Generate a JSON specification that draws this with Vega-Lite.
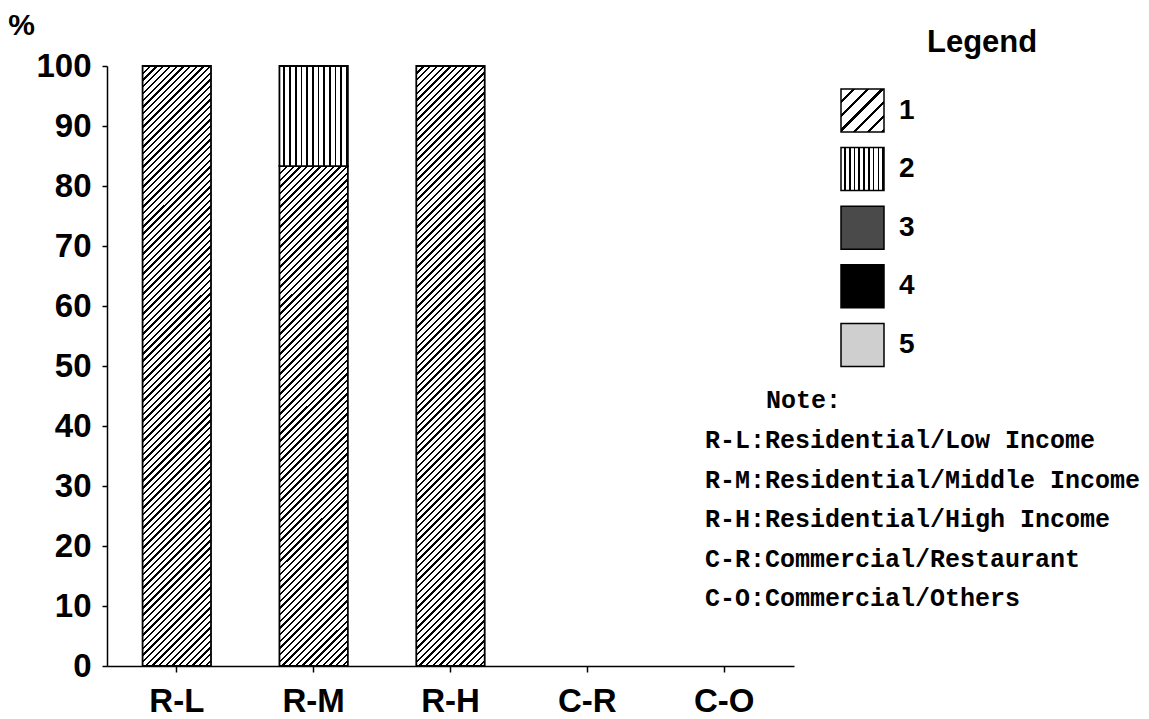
{
"$schema": "https://vega.github.io/schema/vega-lite/v6.json",
"width": 687,
"height": 600,
"autosize": {"type": "none"},
"padding": {"left": 107, "top": 66, "right": 355, "bottom": 53},
"background": "white",
"config": {"view": {"stroke": null}},
"params": [
{"name": "hatchA", "value": {"gradient": "linear", "x1": 0, "y1": 0, "x2": 0.1254, "y2": 1.0997, "stops": [
{"offset":0,"color":"#000"},{"offset":0.0035,"color":"#000"},{"offset":0.0035,"color":"#fff"},{"offset":0.01,"color":"#fff"},
{"offset":0.01,"color":"#000"},{"offset":0.0135,"color":"#000"},{"offset":0.0135,"color":"#fff"},{"offset":0.02,"color":"#fff"},
{"offset":0.02,"color":"#000"},{"offset":0.0235,"color":"#000"},{"offset":0.0235,"color":"#fff"},{"offset":0.03,"color":"#fff"},
{"offset":0.03,"color":"#000"},{"offset":0.0335,"color":"#000"},{"offset":0.0335,"color":"#fff"},{"offset":0.04,"color":"#fff"},
{"offset":0.04,"color":"#000"},{"offset":0.0435,"color":"#000"},{"offset":0.0435,"color":"#fff"},{"offset":0.05,"color":"#fff"},
{"offset":0.05,"color":"#000"},{"offset":0.0535,"color":"#000"},{"offset":0.0535,"color":"#fff"},{"offset":0.06,"color":"#fff"},
{"offset":0.06,"color":"#000"},{"offset":0.0635,"color":"#000"},{"offset":0.0635,"color":"#fff"},{"offset":0.07,"color":"#fff"},
{"offset":0.07,"color":"#000"},{"offset":0.0735,"color":"#000"},{"offset":0.0735,"color":"#fff"},{"offset":0.08,"color":"#fff"},
{"offset":0.08,"color":"#000"},{"offset":0.0835,"color":"#000"},{"offset":0.0835,"color":"#fff"},{"offset":0.09,"color":"#fff"},
{"offset":0.09,"color":"#000"},{"offset":0.0935,"color":"#000"},{"offset":0.0935,"color":"#fff"},{"offset":0.1,"color":"#fff"},
{"offset":0.1,"color":"#000"},{"offset":0.1035,"color":"#000"},{"offset":0.1035,"color":"#fff"},{"offset":0.11,"color":"#fff"},
{"offset":0.11,"color":"#000"},{"offset":0.1135,"color":"#000"},{"offset":0.1135,"color":"#fff"},{"offset":0.12,"color":"#fff"},
{"offset":0.12,"color":"#000"},{"offset":0.1235,"color":"#000"},{"offset":0.1235,"color":"#fff"},{"offset":0.13,"color":"#fff"},
{"offset":0.13,"color":"#000"},{"offset":0.1335,"color":"#000"},{"offset":0.1335,"color":"#fff"},{"offset":0.14,"color":"#fff"},
{"offset":0.14,"color":"#000"},{"offset":0.1435,"color":"#000"},{"offset":0.1435,"color":"#fff"},{"offset":0.15,"color":"#fff"},
{"offset":0.15,"color":"#000"},{"offset":0.1535,"color":"#000"},{"offset":0.1535,"color":"#fff"},{"offset":0.16,"color":"#fff"},
{"offset":0.16,"color":"#000"},{"offset":0.1635,"color":"#000"},{"offset":0.1635,"color":"#fff"},{"offset":0.17,"color":"#fff"},
{"offset":0.17,"color":"#000"},{"offset":0.1735,"color":"#000"},{"offset":0.1735,"color":"#fff"},{"offset":0.18,"color":"#fff"},
{"offset":0.18,"color":"#000"},{"offset":0.1835,"color":"#000"},{"offset":0.1835,"color":"#fff"},{"offset":0.19,"color":"#fff"},
{"offset":0.19,"color":"#000"},{"offset":0.1935,"color":"#000"},{"offset":0.1935,"color":"#fff"},{"offset":0.2,"color":"#fff"},
{"offset":0.2,"color":"#000"},{"offset":0.2035,"color":"#000"},{"offset":0.2035,"color":"#fff"},{"offset":0.21,"color":"#fff"},
{"offset":0.21,"color":"#000"},{"offset":0.2135,"color":"#000"},{"offset":0.2135,"color":"#fff"},{"offset":0.22,"color":"#fff"},
{"offset":0.22,"color":"#000"},{"offset":0.2235,"color":"#000"},{"offset":0.2235,"color":"#fff"},{"offset":0.23,"color":"#fff"},
{"offset":0.23,"color":"#000"},{"offset":0.2335,"color":"#000"},{"offset":0.2335,"color":"#fff"},{"offset":0.24,"color":"#fff"},
{"offset":0.24,"color":"#000"},{"offset":0.2435,"color":"#000"},{"offset":0.2435,"color":"#fff"},{"offset":0.25,"color":"#fff"},
{"offset":0.25,"color":"#000"},{"offset":0.2535,"color":"#000"},{"offset":0.2535,"color":"#fff"},{"offset":0.26,"color":"#fff"},
{"offset":0.26,"color":"#000"},{"offset":0.2635,"color":"#000"},{"offset":0.2635,"color":"#fff"},{"offset":0.27,"color":"#fff"},
{"offset":0.27,"color":"#000"},{"offset":0.2735,"color":"#000"},{"offset":0.2735,"color":"#fff"},{"offset":0.28,"color":"#fff"},
{"offset":0.28,"color":"#000"},{"offset":0.2835,"color":"#000"},{"offset":0.2835,"color":"#fff"},{"offset":0.29,"color":"#fff"},
{"offset":0.29,"color":"#000"},{"offset":0.2935,"color":"#000"},{"offset":0.2935,"color":"#fff"},{"offset":0.3,"color":"#fff"},
{"offset":0.3,"color":"#000"},{"offset":0.3035,"color":"#000"},{"offset":0.3035,"color":"#fff"},{"offset":0.31,"color":"#fff"},
{"offset":0.31,"color":"#000"},{"offset":0.3135,"color":"#000"},{"offset":0.3135,"color":"#fff"},{"offset":0.32,"color":"#fff"},
{"offset":0.32,"color":"#000"},{"offset":0.3235,"color":"#000"},{"offset":0.3235,"color":"#fff"},{"offset":0.33,"color":"#fff"},
{"offset":0.33,"color":"#000"},{"offset":0.3335,"color":"#000"},{"offset":0.3335,"color":"#fff"},{"offset":0.34,"color":"#fff"},
{"offset":0.34,"color":"#000"},{"offset":0.3435,"color":"#000"},{"offset":0.3435,"color":"#fff"},{"offset":0.35,"color":"#fff"},
{"offset":0.35,"color":"#000"},{"offset":0.3535,"color":"#000"},{"offset":0.3535,"color":"#fff"},{"offset":0.36,"color":"#fff"},
{"offset":0.36,"color":"#000"},{"offset":0.3635,"color":"#000"},{"offset":0.3635,"color":"#fff"},{"offset":0.37,"color":"#fff"},
{"offset":0.37,"color":"#000"},{"offset":0.3735,"color":"#000"},{"offset":0.3735,"color":"#fff"},{"offset":0.38,"color":"#fff"},
{"offset":0.38,"color":"#000"},{"offset":0.3835,"color":"#000"},{"offset":0.3835,"color":"#fff"},{"offset":0.39,"color":"#fff"},
{"offset":0.39,"color":"#000"},{"offset":0.3935,"color":"#000"},{"offset":0.3935,"color":"#fff"},{"offset":0.4,"color":"#fff"},
{"offset":0.4,"color":"#000"},{"offset":0.4035,"color":"#000"},{"offset":0.4035,"color":"#fff"},{"offset":0.41,"color":"#fff"},
{"offset":0.41,"color":"#000"},{"offset":0.4135,"color":"#000"},{"offset":0.4135,"color":"#fff"},{"offset":0.42,"color":"#fff"},
{"offset":0.42,"color":"#000"},{"offset":0.4235,"color":"#000"},{"offset":0.4235,"color":"#fff"},{"offset":0.43,"color":"#fff"},
{"offset":0.43,"color":"#000"},{"offset":0.4335,"color":"#000"},{"offset":0.4335,"color":"#fff"},{"offset":0.44,"color":"#fff"},
{"offset":0.44,"color":"#000"},{"offset":0.4435,"color":"#000"},{"offset":0.4435,"color":"#fff"},{"offset":0.45,"color":"#fff"},
{"offset":0.45,"color":"#000"},{"offset":0.4535,"color":"#000"},{"offset":0.4535,"color":"#fff"},{"offset":0.46,"color":"#fff"},
{"offset":0.46,"color":"#000"},{"offset":0.4635,"color":"#000"},{"offset":0.4635,"color":"#fff"},{"offset":0.47,"color":"#fff"},
{"offset":0.47,"color":"#000"},{"offset":0.4735,"color":"#000"},{"offset":0.4735,"color":"#fff"},{"offset":0.48,"color":"#fff"},
{"offset":0.48,"color":"#000"},{"offset":0.4835,"color":"#000"},{"offset":0.4835,"color":"#fff"},{"offset":0.49,"color":"#fff"},
{"offset":0.49,"color":"#000"},{"offset":0.4935,"color":"#000"},{"offset":0.4935,"color":"#fff"},{"offset":0.5,"color":"#fff"},
{"offset":0.5,"color":"#000"},{"offset":0.5035,"color":"#000"},{"offset":0.5035,"color":"#fff"},{"offset":0.51,"color":"#fff"},
{"offset":0.51,"color":"#000"},{"offset":0.5135,"color":"#000"},{"offset":0.5135,"color":"#fff"},{"offset":0.52,"color":"#fff"},
{"offset":0.52,"color":"#000"},{"offset":0.5235,"color":"#000"},{"offset":0.5235,"color":"#fff"},{"offset":0.53,"color":"#fff"},
{"offset":0.53,"color":"#000"},{"offset":0.5335,"color":"#000"},{"offset":0.5335,"color":"#fff"},{"offset":0.54,"color":"#fff"},
{"offset":0.54,"color":"#000"},{"offset":0.5435,"color":"#000"},{"offset":0.5435,"color":"#fff"},{"offset":0.55,"color":"#fff"},
{"offset":0.55,"color":"#000"},{"offset":0.5535,"color":"#000"},{"offset":0.5535,"color":"#fff"},{"offset":0.56,"color":"#fff"},
{"offset":0.56,"color":"#000"},{"offset":0.5635,"color":"#000"},{"offset":0.5635,"color":"#fff"},{"offset":0.57,"color":"#fff"},
{"offset":0.57,"color":"#000"},{"offset":0.5735,"color":"#000"},{"offset":0.5735,"color":"#fff"},{"offset":0.58,"color":"#fff"},
{"offset":0.58,"color":"#000"},{"offset":0.5835,"color":"#000"},{"offset":0.5835,"color":"#fff"},{"offset":0.59,"color":"#fff"},
{"offset":0.59,"color":"#000"},{"offset":0.5935,"color":"#000"},{"offset":0.5935,"color":"#fff"},{"offset":0.6,"color":"#fff"},
{"offset":0.6,"color":"#000"},{"offset":0.6035,"color":"#000"},{"offset":0.6035,"color":"#fff"},{"offset":0.61,"color":"#fff"},
{"offset":0.61,"color":"#000"},{"offset":0.6135,"color":"#000"},{"offset":0.6135,"color":"#fff"},{"offset":0.62,"color":"#fff"},
{"offset":0.62,"color":"#000"},{"offset":0.6235,"color":"#000"},{"offset":0.6235,"color":"#fff"},{"offset":0.63,"color":"#fff"},
{"offset":0.63,"color":"#000"},{"offset":0.6335,"color":"#000"},{"offset":0.6335,"color":"#fff"},{"offset":0.64,"color":"#fff"},
{"offset":0.64,"color":"#000"},{"offset":0.6435,"color":"#000"},{"offset":0.6435,"color":"#fff"},{"offset":0.65,"color":"#fff"},
{"offset":0.65,"color":"#000"},{"offset":0.6535,"color":"#000"},{"offset":0.6535,"color":"#fff"},{"offset":0.66,"color":"#fff"},
{"offset":0.66,"color":"#000"},{"offset":0.6635,"color":"#000"},{"offset":0.6635,"color":"#fff"},{"offset":0.67,"color":"#fff"},
{"offset":0.67,"color":"#000"},{"offset":0.6735,"color":"#000"},{"offset":0.6735,"color":"#fff"},{"offset":0.68,"color":"#fff"},
{"offset":0.68,"color":"#000"},{"offset":0.6835,"color":"#000"},{"offset":0.6835,"color":"#fff"},{"offset":0.69,"color":"#fff"},
{"offset":0.69,"color":"#000"},{"offset":0.6935,"color":"#000"},{"offset":0.6935,"color":"#fff"},{"offset":0.7,"color":"#fff"},
{"offset":0.7,"color":"#000"},{"offset":0.7035,"color":"#000"},{"offset":0.7035,"color":"#fff"},{"offset":0.71,"color":"#fff"},
{"offset":0.71,"color":"#000"},{"offset":0.7135,"color":"#000"},{"offset":0.7135,"color":"#fff"},{"offset":0.72,"color":"#fff"},
{"offset":0.72,"color":"#000"},{"offset":0.7235,"color":"#000"},{"offset":0.7235,"color":"#fff"},{"offset":0.73,"color":"#fff"},
{"offset":0.73,"color":"#000"},{"offset":0.7335,"color":"#000"},{"offset":0.7335,"color":"#fff"},{"offset":0.74,"color":"#fff"},
{"offset":0.74,"color":"#000"},{"offset":0.7435,"color":"#000"},{"offset":0.7435,"color":"#fff"},{"offset":0.75,"color":"#fff"},
{"offset":0.75,"color":"#000"},{"offset":0.7535,"color":"#000"},{"offset":0.7535,"color":"#fff"},{"offset":0.76,"color":"#fff"},
{"offset":0.76,"color":"#000"},{"offset":0.7635,"color":"#000"},{"offset":0.7635,"color":"#fff"},{"offset":0.77,"color":"#fff"},
{"offset":0.77,"color":"#000"},{"offset":0.7735,"color":"#000"},{"offset":0.7735,"color":"#fff"},{"offset":0.78,"color":"#fff"},
{"offset":0.78,"color":"#000"},{"offset":0.7835,"color":"#000"},{"offset":0.7835,"color":"#fff"},{"offset":0.79,"color":"#fff"},
{"offset":0.79,"color":"#000"},{"offset":0.7935,"color":"#000"},{"offset":0.7935,"color":"#fff"},{"offset":0.8,"color":"#fff"},
{"offset":0.8,"color":"#000"},{"offset":0.8035,"color":"#000"},{"offset":0.8035,"color":"#fff"},{"offset":0.81,"color":"#fff"},
{"offset":0.81,"color":"#000"},{"offset":0.8135,"color":"#000"},{"offset":0.8135,"color":"#fff"},{"offset":0.82,"color":"#fff"},
{"offset":0.82,"color":"#000"},{"offset":0.8235,"color":"#000"},{"offset":0.8235,"color":"#fff"},{"offset":0.83,"color":"#fff"},
{"offset":0.83,"color":"#000"},{"offset":0.8335,"color":"#000"},{"offset":0.8335,"color":"#fff"},{"offset":0.84,"color":"#fff"},
{"offset":0.84,"color":"#000"},{"offset":0.8435,"color":"#000"},{"offset":0.8435,"color":"#fff"},{"offset":0.85,"color":"#fff"},
{"offset":0.85,"color":"#000"},{"offset":0.8535,"color":"#000"},{"offset":0.8535,"color":"#fff"},{"offset":0.86,"color":"#fff"},
{"offset":0.86,"color":"#000"},{"offset":0.8635,"color":"#000"},{"offset":0.8635,"color":"#fff"},{"offset":0.87,"color":"#fff"},
{"offset":0.87,"color":"#000"},{"offset":0.8735,"color":"#000"},{"offset":0.8735,"color":"#fff"},{"offset":0.88,"color":"#fff"},
{"offset":0.88,"color":"#000"},{"offset":0.8835,"color":"#000"},{"offset":0.8835,"color":"#fff"},{"offset":0.89,"color":"#fff"},
{"offset":0.89,"color":"#000"},{"offset":0.8935,"color":"#000"},{"offset":0.8935,"color":"#fff"},{"offset":0.9,"color":"#fff"},
{"offset":0.9,"color":"#000"},{"offset":0.9035,"color":"#000"},{"offset":0.9035,"color":"#fff"},{"offset":0.91,"color":"#fff"},
{"offset":0.91,"color":"#000"},{"offset":0.9135,"color":"#000"},{"offset":0.9135,"color":"#fff"},{"offset":0.92,"color":"#fff"},
{"offset":0.92,"color":"#000"},{"offset":0.9235,"color":"#000"},{"offset":0.9235,"color":"#fff"},{"offset":0.93,"color":"#fff"},
{"offset":0.93,"color":"#000"},{"offset":0.9335,"color":"#000"},{"offset":0.9335,"color":"#fff"},{"offset":0.94,"color":"#fff"},
{"offset":0.94,"color":"#000"},{"offset":0.9435,"color":"#000"},{"offset":0.9435,"color":"#fff"},{"offset":0.95,"color":"#fff"},
{"offset":0.95,"color":"#000"},{"offset":0.9535,"color":"#000"},{"offset":0.9535,"color":"#fff"},{"offset":0.96,"color":"#fff"},
{"offset":0.96,"color":"#000"},{"offset":0.9635,"color":"#000"},{"offset":0.9635,"color":"#fff"},{"offset":0.97,"color":"#fff"},
{"offset":0.97,"color":"#000"},{"offset":0.9735,"color":"#000"},{"offset":0.9735,"color":"#fff"},{"offset":0.98,"color":"#fff"},
{"offset":0.98,"color":"#000"},{"offset":0.9835,"color":"#000"},{"offset":0.9835,"color":"#fff"},{"offset":0.99,"color":"#fff"},
{"offset":0.99,"color":"#000"},{"offset":0.9935,"color":"#000"},{"offset":0.9935,"color":"#fff"},{"offset":1,"color":"#fff"}
]}},
{"name": "vstripe", "value": {"gradient": "linear", "x1": 0, "y1": 0, "x2": 1, "y2": 0, "stops": [
{"offset":0,"color":"#fff"},{"offset":0.0583,"color":"#fff"},{"offset":0.0583,"color":"#000"},{"offset":0.0833,"color":"#000"},
{"offset":0.0833,"color":"#fff"},{"offset":0.1416,"color":"#fff"},{"offset":0.1416,"color":"#000"},{"offset":0.1667,"color":"#000"},
{"offset":0.1667,"color":"#fff"},{"offset":0.225,"color":"#fff"},{"offset":0.225,"color":"#000"},{"offset":0.25,"color":"#000"},
{"offset":0.25,"color":"#fff"},{"offset":0.3083,"color":"#fff"},{"offset":0.3083,"color":"#000"},{"offset":0.3333,"color":"#000"},
{"offset":0.3333,"color":"#fff"},{"offset":0.3916,"color":"#fff"},{"offset":0.3916,"color":"#000"},{"offset":0.4167,"color":"#000"},
{"offset":0.4167,"color":"#fff"},{"offset":0.475,"color":"#fff"},{"offset":0.475,"color":"#000"},{"offset":0.5,"color":"#000"},
{"offset":0.5,"color":"#fff"},{"offset":0.5583,"color":"#fff"},{"offset":0.5583,"color":"#000"},{"offset":0.5833,"color":"#000"},
{"offset":0.5833,"color":"#fff"},{"offset":0.6416,"color":"#fff"},{"offset":0.6416,"color":"#000"},{"offset":0.6667,"color":"#000"},
{"offset":0.6667,"color":"#fff"},{"offset":0.725,"color":"#fff"},{"offset":0.725,"color":"#000"},{"offset":0.75,"color":"#000"},
{"offset":0.75,"color":"#fff"},{"offset":0.8083,"color":"#fff"},{"offset":0.8083,"color":"#000"},{"offset":0.8333,"color":"#000"},
{"offset":0.8333,"color":"#fff"},{"offset":0.8916,"color":"#fff"},{"offset":0.8916,"color":"#000"},{"offset":0.9167,"color":"#000"},
{"offset":0.9167,"color":"#fff"},{"offset":0.975,"color":"#fff"},{"offset":0.975,"color":"#000"},{"offset":1,"color":"#000"}
]}},
{"name": "legHatch", "value": {"gradient": "linear", "x1": 0, "y1": 0, "x2": 1, "y2": 1, "stops": [
{"offset":0,"color":"#fff"},{"offset":0.13,"color":"#fff"},{"offset":0.13,"color":"#000"},{"offset":0.1667,"color":"#000"},
{"offset":0.1667,"color":"#fff"},{"offset":0.2967,"color":"#fff"},{"offset":0.2967,"color":"#000"},{"offset":0.3333,"color":"#000"},
{"offset":0.3333,"color":"#fff"},{"offset":0.4633,"color":"#fff"},{"offset":0.4633,"color":"#000"},{"offset":0.5,"color":"#000"},
{"offset":0.5,"color":"#fff"},{"offset":0.63,"color":"#fff"},{"offset":0.63,"color":"#000"},{"offset":0.6667,"color":"#000"},
{"offset":0.6667,"color":"#fff"},{"offset":0.7967,"color":"#fff"},{"offset":0.7967,"color":"#000"},{"offset":0.8333,"color":"#000"},
{"offset":0.8333,"color":"#fff"},{"offset":0.9633,"color":"#fff"},{"offset":0.9633,"color":"#000"},{"offset":1,"color":"#000"}
]}},
{"name": "legV", "value": {"gradient": "linear", "x1": 0, "y1": 0, "x2": 1, "y2": 0, "stops": [
{"offset":0,"color":"#fff"},{"offset":0.072,"color":"#fff"},{"offset":0.072,"color":"#000"},{"offset":0.1111,"color":"#000"},
{"offset":0.1111,"color":"#fff"},{"offset":0.1831,"color":"#fff"},{"offset":0.1831,"color":"#000"},{"offset":0.2222,"color":"#000"},
{"offset":0.2222,"color":"#fff"},{"offset":0.2942,"color":"#fff"},{"offset":0.2942,"color":"#000"},{"offset":0.3333,"color":"#000"},
{"offset":0.3333,"color":"#fff"},{"offset":0.4053,"color":"#fff"},{"offset":0.4053,"color":"#000"},{"offset":0.4444,"color":"#000"},
{"offset":0.4444,"color":"#fff"},{"offset":0.5164,"color":"#fff"},{"offset":0.5164,"color":"#000"},{"offset":0.5556,"color":"#000"},
{"offset":0.5556,"color":"#fff"},{"offset":0.6276,"color":"#fff"},{"offset":0.6276,"color":"#000"},{"offset":0.6667,"color":"#000"},
{"offset":0.6667,"color":"#fff"},{"offset":0.7387,"color":"#fff"},{"offset":0.7387,"color":"#000"},{"offset":0.7778,"color":"#000"},
{"offset":0.7778,"color":"#fff"},{"offset":0.8498,"color":"#fff"},{"offset":0.8498,"color":"#000"},{"offset":0.8889,"color":"#000"},
{"offset":0.8889,"color":"#fff"},{"offset":0.9609,"color":"#fff"},{"offset":0.9609,"color":"#000"},{"offset":1,"color":"#000"}
]}}
],
"data": {"values": [
{"cat": "R-L", "series": "1", "value": 100},
{"cat": "R-M", "series": "1", "value": 83.3},
{"cat": "R-M", "series": "2", "value": 16.7},
{"cat": "R-H", "series": "1", "value": 100}
]},
"transform": [
{"stack": "value", "groupby": ["cat"], "sort": [{"field": "series", "order": "ascending"}], "as": ["v0", "v1"]}
],
"encoding": {
"x": {"field": "cat", "type": "nominal",
  "scale": {"domain": ["R-L", "R-M", "R-H", "C-R", "C-O"], "paddingInner": 0.5, "paddingOuter": 0.26},
  "axis": {"title": null, "labelAngle": 0, "labelFont": "Liberation Sans", "labelFontSize": 33, "labelFontWeight": "bold", "labelColor": "#000", "labelPadding": 13, "tickSize": 6, "tickColor": "#000", "tickWidth": 1.5, "domainColor": "#000", "domainWidth": 1.5, "grid": false}},
"y": {"field": "v0", "type": "quantitative",
  "scale": {"domain": [0, 100]},
  "axis": {"title": "%", "values": [0, 10, 20, 30, 40, 50, 60, 70, 80, 90, 100], "grid": false, "labelFont": "Liberation Sans", "labelFontSize": 33, "labelFontWeight": "bold", "labelColor": "#000", "labelPadding": 11, "tickSize": 5, "tickColor": "#000", "tickWidth": 1.5, "domainColor": "#000", "domainWidth": 1.5, "titleAngle": 0, "titleX": -86, "titleY": -41, "titleAlign": "center", "titleBaseline": "middle", "titleFont": "Liberation Sans", "titleFontSize": 30, "titleFontWeight": "bold", "titleColor": "#000"}},
"y2": {"field": "v1"}
},
"layer": [
{
"mark": {"type": "bar", "opacity": 0, "stroke": "#000"},
"encoding": {
  "fill": {"field": "series", "type": "nominal",
    "scale": {"domain": ["1", "2", "3", "4", "5"], "range": [{"expr": "legHatch"}, {"expr": "legV"}, "#4a4a4a", "#000000", "#cfcfcf"]},
    "legend": {"title": "Legend", "orient": "none", "legendX": 820, "legendY": -38, "padding": 0,
      "symbolType": "square", "symbolSize": 1849, "symbolStrokeColor": "#000", "symbolStrokeWidth": 1.5, "symbolOpacity": 1, "symbolOffset": -87,
      "rowPadding": 9.6, "labelFont": "Liberation Sans", "labelFontSize": 28, "labelFontWeight": "bold", "labelColor": "#000", "labelOffset": 14,
      "titleFont": "Liberation Sans", "titleFontSize": 31, "titleFontWeight": "bold", "titleColor": "#000", "titlePadding": 29, "titleAnchor": "start", "titleLimit": 0}},
  "strokeDash": {"field": "cat", "type": "nominal",
    "scale": {"domain": ["R-L", "R-M", "R-H", "C-R", "C-O"], "range": [[1, 0], [1, 0], [1, 0], [1, 0], [1, 0]]},
    "legend": {"title": "Note:", "orient": "none", "legendX": 659, "legendY": 322, "padding": 0,
      "symbolType": "square", "symbolSize": 0, "symbolOpacity": 0, "symbolStrokeWidth": 0, "labelOffset": -86,
      "labelFont": "Liberation Mono, DejaVu Sans Mono, monospace", "labelFontSize": 25, "labelFontWeight": "bold", "labelColor": "#000", "labelLimit": 0,
      "rowPadding": 13.5,
      "titleFont": "Liberation Mono, DejaVu Sans Mono, monospace", "titleFontSize": 25, "titleFontWeight": "bold", "titleColor": "#000", "titlePadding": 14.5, "titleAnchor": "start", "titleLimit": 0,
      "labelExpr": "datum.label === 'R-L' ? 'R-L:Residential/Low Income' : datum.label === 'R-M' ? 'R-M:Residential/Middle Income' : datum.label === 'R-H' ? 'R-H:Residential/High Income' : datum.label === 'C-R' ? 'C-R:Commercial/Restaurant' : 'C-O:Commercial/Others'"
    }}
}
},
{
"transform": [{"filter": "datum.series === '1' && datum.cat !== 'R-M'"}],
"mark": {"type": "bar", "fill": {"expr": "hatchA"}, "stroke": "#000", "strokeWidth": 1.8}
},
{
"transform": [{"filter": "datum.series === '1' && datum.cat === 'R-M'"}],
"mark": {"type": "bar", "fill": {"expr": "merge(hatchA, {id: 'hatchB', x2: 0.1796, y2: 1.3127})"}, "stroke": "#000", "strokeWidth": 1.8}
},
{
"transform": [{"filter": "datum.series === '2'"}],
"mark": {"type": "bar", "fill": {"expr": "vstripe"}, "stroke": "#000", "strokeWidth": 1.8}
}
]
}
